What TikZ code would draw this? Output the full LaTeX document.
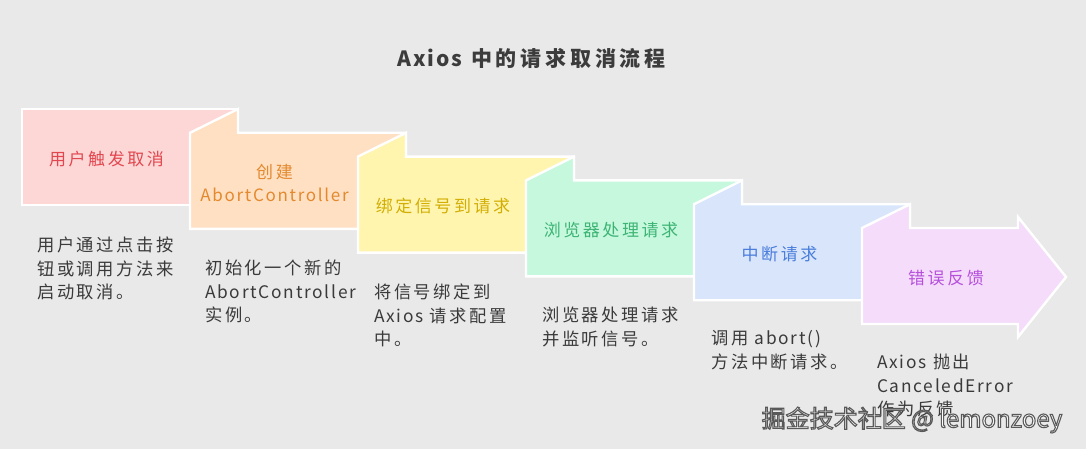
\documentclass[tikz,border=0pt]{standalone}
\usepackage{fontspec}
\setmainfont{Noto Sans CJK SC}[LetterSpace=15]
\newfontfamily\latin{Noto Sans CJK SC}[LetterSpace=10]
\newfontfamily\wmfont{Noto Sans CJK SC}
\newcommand\lat[1]{{\latin #1}}
\newcommand\fsz[2]{\fontsize{#1}{#2}\selectfont}
\definecolor{bg}{HTML}{E9E9E9}
\definecolor{pinkF}{HTML}{FDD6D6}
\definecolor{pinkT}{HTML}{E2474F}
\definecolor{orangeF}{HTML}{FFE0C3}
\definecolor{orangeT}{HTML}{E3892E}
\definecolor{yellowF}{HTML}{FFF5AE}
\definecolor{yellowT}{HTML}{D2AE05}
\definecolor{greenF}{HTML}{C6F8DE}
\definecolor{greenT}{HTML}{3DB474}
\definecolor{blueF}{HTML}{D8E5FB}
\definecolor{blueT}{HTML}{4A7DDC}
\definecolor{purpleF}{HTML}{F4DCFA}
\definecolor{purpleT}{HTML}{B650DC}
\definecolor{descT}{HTML}{3A3A3A}
\definecolor{titleT}{HTML}{3C3C3C}
\newcommand\desc[1]{\begin{tabular}[t]{@{}l@{}}#1\end{tabular}}
\tikzset{
  panel/.style={draw=white, line width=2.4pt, line join=miter},
  boxlabel/.style={inner sep=0pt, align=center, font=\fsz{17}{23}},
  desctext/.style={inner sep=0pt, anchor=base west, text=descT, font=\fsz{17.3}{23.5}},
}
\begin{document}
\begin{tikzpicture}[x=1pt,y=-1pt]
\useasboundingbox (0,0) rectangle (1086,449);
\fill[bg] (0,0) rectangle (1086,449);
% title
\node[inner sep=0pt, text=titleT, font=\fsz{21}{24}\bfseries\addfontfeatures{LetterSpace=18}] (title) at (531.5,58) {\lat{Axios} 中的请求取消流程};
% panels
\path[panel, fill=pinkF] (22,109) rectangle (238,205);
\path[panel, fill=orangeF] (190,228.8) -- (190,132.8) -- (238,109) -- (238,132.8) -- (406,132.8) -- (406,228.8) -- cycle;
\path[panel, fill=yellowF] (358,252.6) -- (358,156.6) -- (406,132.8) -- (406,156.6) -- (574,156.6) -- (574,252.6) -- cycle;
\path[panel, fill=greenF] (526,276.4) -- (526,180.4) -- (574,156.6) -- (574,180.4) -- (742,180.4) -- (742,276.4) -- cycle;
\path[panel, fill=blueF] (694,300.2) -- (694,204.2) -- (742,180.4) -- (742,204.2) -- (910,204.2) -- (910,300.2) -- cycle;
\path[panel, fill=purpleF] (862,324) -- (862,228) -- (910,204.2) -- (910,228) -- (1018,228) -- (1018,217) -- (1066,277) -- (1018,337) -- (1018,324) -- cycle;
% labels
\node[boxlabel, text=pinkT] (l1) at (106.5,159) {用户触发取消};
\node[boxlabel, text=orangeT] (l2) at (274.5,183) {创建\\\lat{AbortController}};
\node[boxlabel, text=yellowT] (l3) at (443,206.5) {绑定信号到请求};
\node[boxlabel, text=greenT] (l4) at (611,230.5) {浏览器处理请求};
\node[boxlabel, text=blueT] (l5) at (779.5,254) {中断请求};
\node[boxlabel, text=purpleT] (l6) at (946,278.5) {错误反馈};
% descriptions
\node[desctext] (d1) at (37,251.5) {\desc{用户通过点击按\\钮或调用方法来\\启动取消。}};
\node[desctext] (d2) at (205,274.5) {\desc{初始化一个新的\\\lat{AbortController}\\实例。}};
\node[desctext] (d3) at (374,298.5) {\desc{将信号绑定到\\\lat{Axios} 请求配置\\中。}};
\node[desctext] (d4) at (542,321.5) {\desc{浏览器处理请求\\并监听信号。}};
\node[desctext] (d5) at (711,344.5) {\desc{调用 \lat{abort()}\\方法中断请求。}};
\node[desctext] (d6) at (877,368.5) {\desc{\lat{Axios} 抛出\\\lat{CanceledError}\\作为反馈}};
% watermark (outlined white text)
\node[inner sep=0pt, text=white, font=\wmfont\fsz{24}{28}] (wm) at (912,420)
  {\special{pdf:literal direct 2 Tr 0.35 0.35 0.35 RG 1.1 w}掘金技术社区 @ lemonzoey\special{pdf:literal direct 0 Tr}};
\end{tikzpicture}
\end{document}
